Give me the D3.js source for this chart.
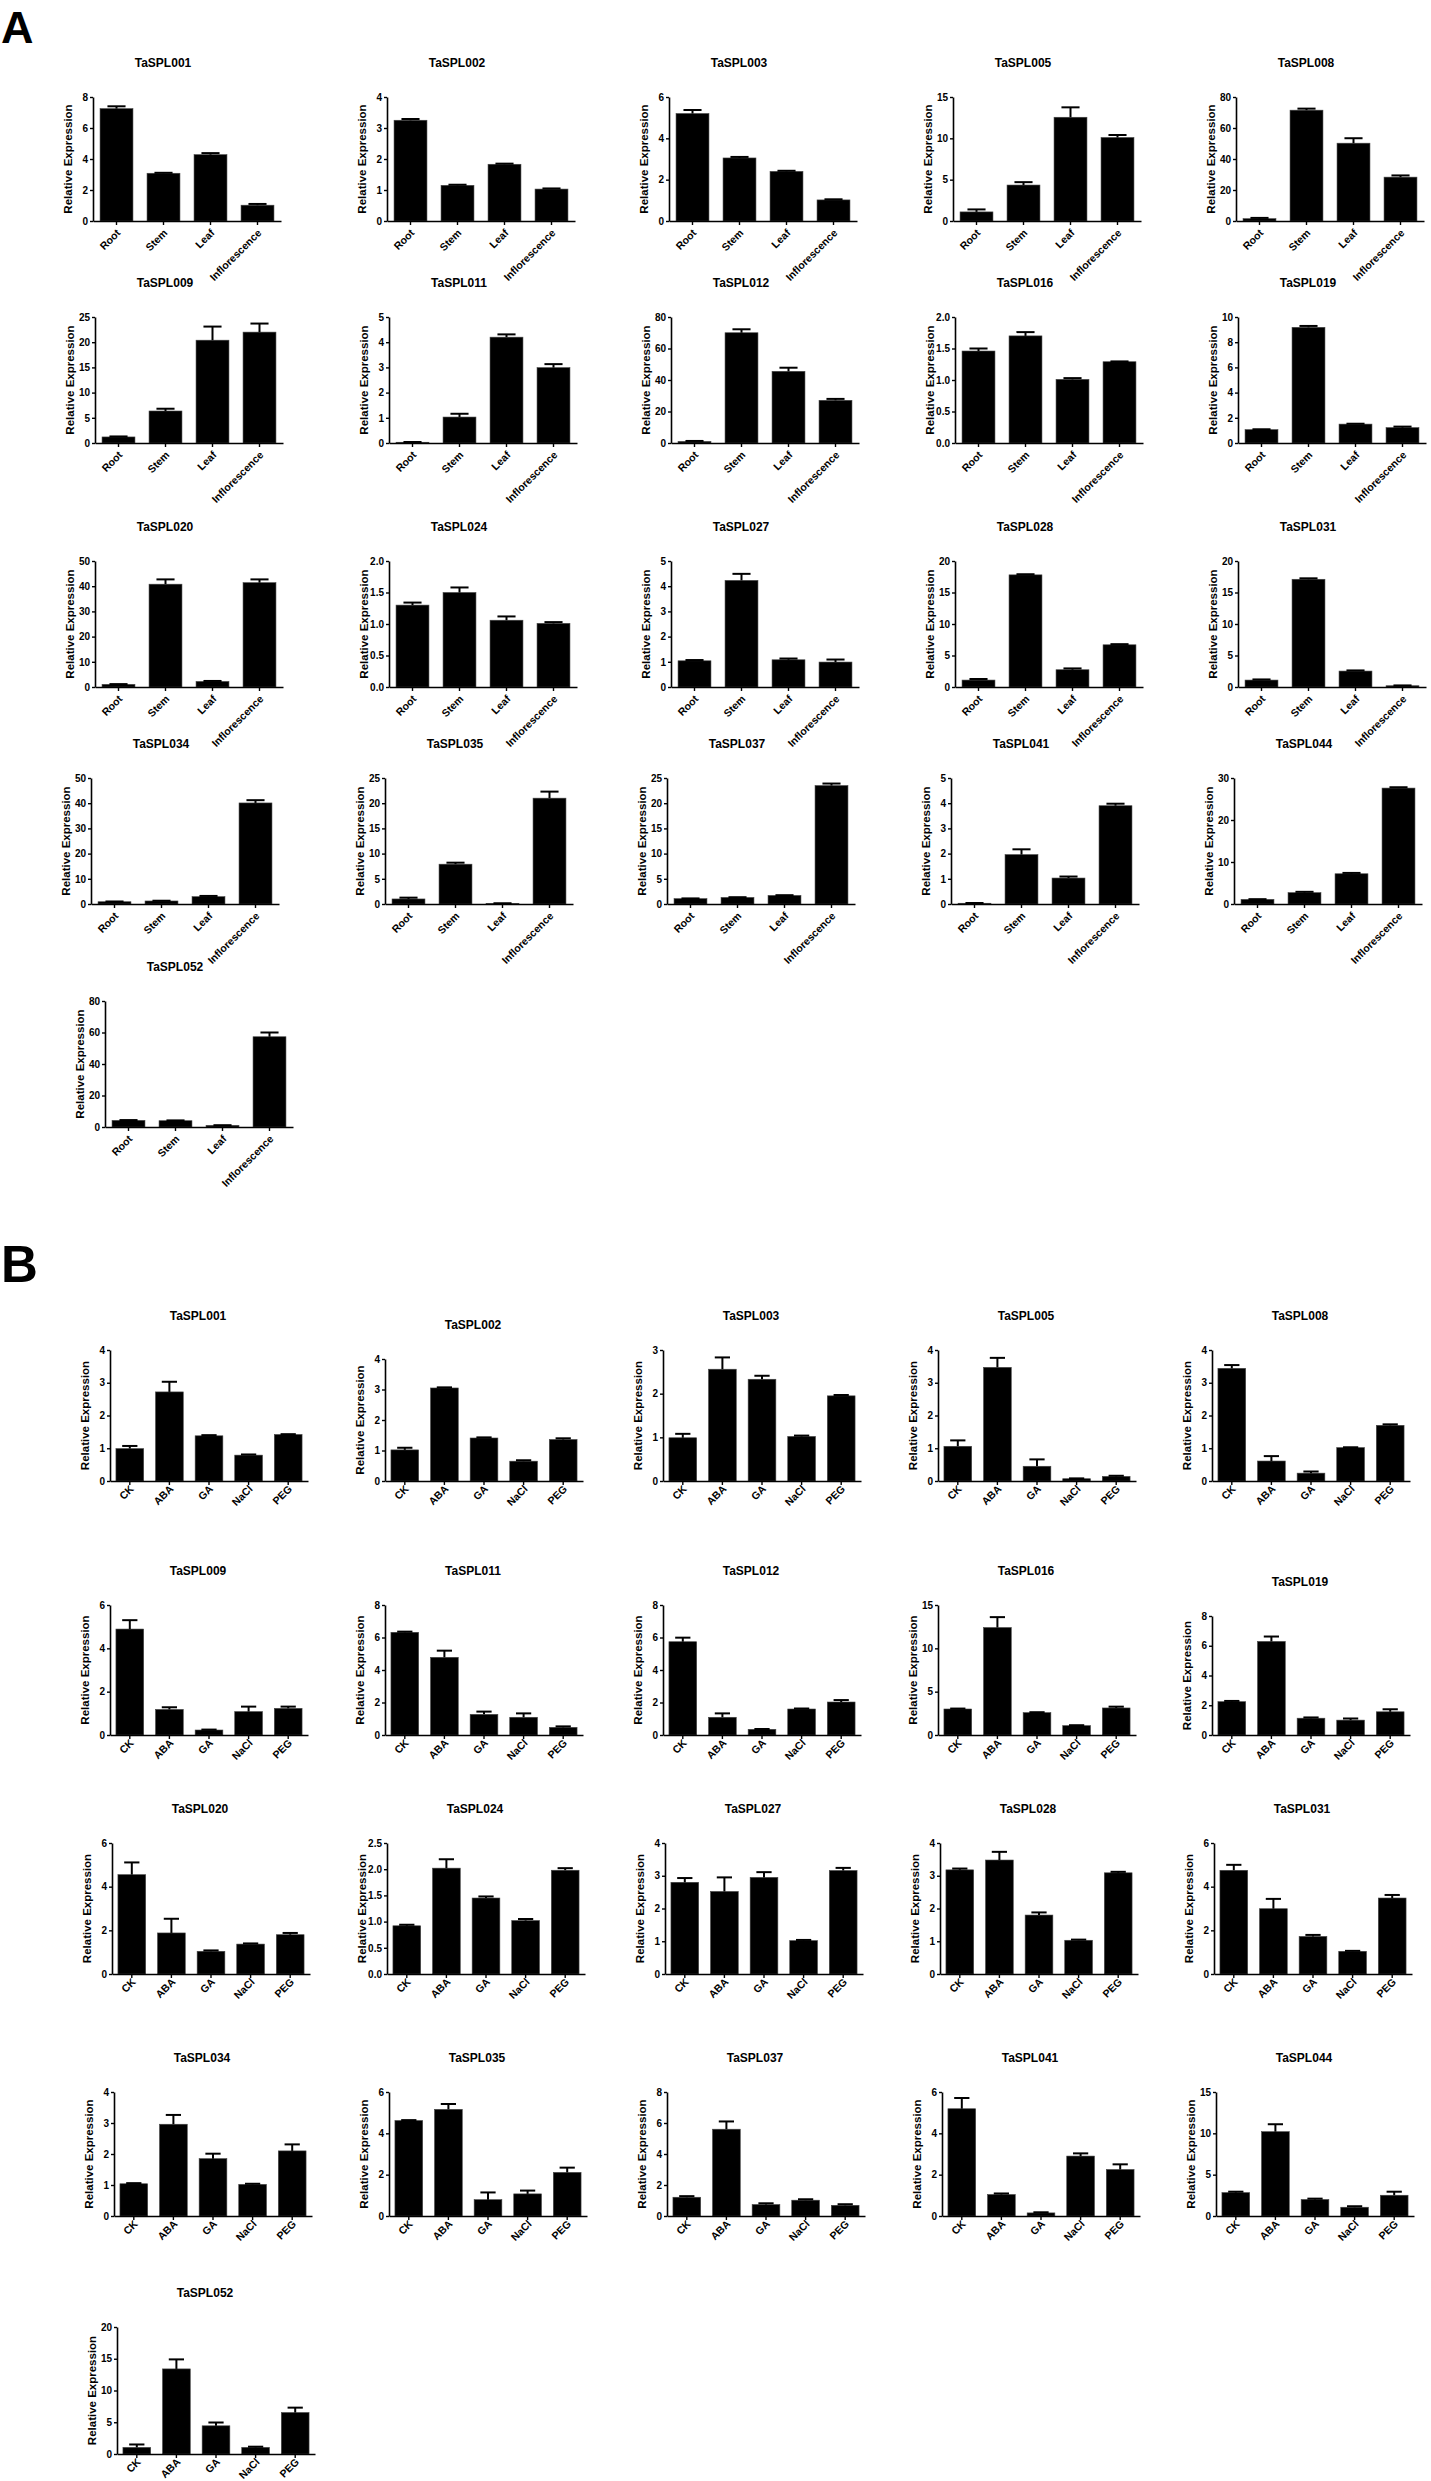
<!DOCTYPE html>
<html>
<head>
<meta charset="utf-8">
<script src="https://cdn.jsdelivr.net/npm/d3@7"></script>
<style>
  body { margin: 0; background: #fff; }
  text { font-family: "Liberation Sans", Arial, sans-serif; font-weight: bold; fill: #000; }
</style>
</head>
<body>
<svg id="fig" width="1431" height="2481"></svg>
<script>
// gene names, same order in A and B
const genes = ["TaSPL001", "TaSPL002", "TaSPL003", "TaSPL005", "TaSPL008",
    "TaSPL009", "TaSPL011", "TaSPL012", "TaSPL016", "TaSPL019",
    "TaSPL020", "TaSPL024", "TaSPL027", "TaSPL028", "TaSPL031",
    "TaSPL034", "TaSPL035", "TaSPL037", "TaSPL041", "TaSPL044",
    "TaSPL052"];

// A: tissues
const tissues = ["Root", "Stem", "Leaf", "Inflorescence"];
const tissueMax = [8, 4, 6, 15, 80, 25, 5, 80, 2, 10, 50, 2, 5, 20, 20, 50, 25, 25, 5, 30, 80];
const tissueStep = [2, 1, 2, 5, 20, 5, 1, 20, 0.5, 2, 10, 0.5, 1, 5, 5, 10, 5, 5, 1, 10, 20];
const tissueMean = [
    [7.25, 3.08, 4.28, 1.02], [3.25, 1.15, 1.83, 1.03], [5.2, 3.05, 2.4, 1.02],
    [1.1, 4.35, 12.55, 10.1], [1.5, 71.5, 50.2, 28.3],
    [1.2, 6.35, 20.4, 22.0], [0.03, 1.03, 4.2, 2.99], [1.0, 70, 45.5, 27.1],
    [1.46, 1.7, 1.01, 1.29], [1.06, 9.18, 1.5, 1.22],
    [1.05, 40.8, 2.2, 41.4], [1.3, 1.5, 1.06, 1.01], [1.04, 4.23, 1.08, 0.99],
    [1.1, 17.8, 2.74, 6.7], [1.1, 17.1, 2.53, 0.2],
    [0.9, 1.2, 2.9, 40.1], [1.0, 7.9, 0.1, 21.0], [1.06, 1.3, 1.7, 23.5],
    [0.03, 1.96, 1.03, 3.9], [1.1, 2.7, 7.2, 27.6],
    [4.2, 4.0, 1.05, 57.3]
];
const tissueErr = [
    [0.15, 0.03, 0.1, 0.08], [0.04, 0.02, 0.02, 0.02], [0.17, 0.05, 0.03, 0.03],
    [0.3, 0.35, 1.2, 0.3], [0.5, 1.0, 3.2, 1.1],
    [0.1, 0.45, 2.7, 1.7], [0.01, 0.13, 0.11, 0.14], [0.3, 2.2, 2.3, 0.9],
    [0.04, 0.06, 0.02, 0.005], [0.03, 0.11, 0.03, 0.08],
    [0.1, 1.9, 0.2, 1.3], [0.04, 0.08, 0.06, 0.02], [0.03, 0.26, 0.05, 0.1],
    [0.17, 0.1, 0.21, 0.1], [0.1, 0.15, 0.1, 0.05],
    [0.1, 0.1, 0.3, 1.1], [0.26, 0.3, 0.05, 1.3], [0.05, 0.05, 0.05, 0.4],
    [0.01, 0.21, 0.06, 0.08], [0.05, 0.2, 0.2, 0.2],
    [0.2, 0.2, 0.1, 2.7]
];

// B: treatments
const treatments = ["CK", "ABA", "GA", "NaCl", "PEG"];
const stressMax = [4, 4, 3, 4, 4, 6, 8, 8, 15, 8, 6, 2.5, 4, 4, 6, 4, 6, 8, 6, 15, 20];
const stressStep = [1, 1, 1, 1, 1, 2, 2, 2, 5, 2, 2, 0.5, 1, 1, 2, 1, 2, 2, 2, 5, 5];
const stressMean = [
    [0.99, 2.72, 1.38, 0.79, 1.42], [1.02, 3.05, 1.41, 0.65, 1.36], [0.99, 2.56, 2.33, 1.02, 1.95],
    [1.06, 3.47, 0.45, 0.07, 0.14], [3.44, 0.61, 0.24, 1.02, 1.7],
    [4.89, 1.18, 0.23, 1.08, 1.23], [6.32, 4.78, 1.27, 1.09, 0.47], [5.74, 1.09, 0.35, 1.6, 2.03],
    [3.0, 12.4, 2.58, 1.08, 3.12], [2.24, 6.29, 1.13, 1.0, 1.56],
    [4.55, 1.88, 1.04, 1.37, 1.8], [0.92, 2.02, 1.45, 1.02, 1.98], [2.8, 2.52, 2.95, 1.02, 3.16],
    [3.18, 3.48, 1.8, 1.03, 3.09], [4.75, 2.99, 1.72, 1.04, 3.48],
    [1.04, 2.96, 1.85, 1.02, 2.1], [4.62, 5.16, 0.79, 1.07, 2.11], [1.21, 5.6, 0.74, 1.02, 0.69],
    [5.19, 1.04, 0.15, 2.9, 2.25], [2.83, 10.2, 2.0, 1.06, 2.51],
    [1.04, 13.4, 4.44, 1.04, 6.53]
];
const stressErr = [
    [0.08, 0.31, 0.02, 0.02, 0.01], [0.07, 0.02, 0.02, 0.03, 0.04], [0.09, 0.27, 0.08, 0.02, 0.02],
    [0.18, 0.29, 0.21, 0.01, 0.02], [0.1, 0.15, 0.05, 0.01, 0.03],
    [0.41, 0.1, 0.02, 0.23, 0.08], [0.04, 0.41, 0.17, 0.24, 0.06], [0.25, 0.24, 0.02, 0.03, 0.12],
    [0.05, 1.2, 0.05, 0.05, 0.15], [0.05, 0.33, 0.05, 0.11, 0.17],
    [0.56, 0.65, 0.04, 0.03, 0.08], [0.02, 0.17, 0.03, 0.03, 0.04], [0.13, 0.43, 0.16, 0.02, 0.08],
    [0.04, 0.25, 0.08, 0.02, 0.03], [0.25, 0.45, 0.07, 0.02, 0.14],
    [0.02, 0.3, 0.16, 0.02, 0.21], [0.02, 0.26, 0.35, 0.16, 0.23], [0.07, 0.5, 0.08, 0.06, 0.07],
    [0.52, 0.05, 0.03, 0.13, 0.25], [0.11, 0.9, 0.1, 0.12, 0.43],
    [0.46, 1.5, 0.52, 0.11, 0.77]
];

const svg = d3.select("#fig");

// grid of the two blocks (y axis position, plot top, plot bottom)
const layoutA = {
    colX: [93, 387, 669, 953, 1236], rowDx: [0, 2, 2, -2, 12],
    top: [97, 317, 561, 778, 1001], bottom: [221, 443, 687, 904, 1127],
    w: 188, titleDx: 70, labelDy: 10
};
const layoutB = {
    colX: [110, 385, 663, 938, 1212], rowDx: [0, 0, 2, 4, 7],
    top: [1350, 1605, 1843, 2092, 2327], bottom: [1481, 1735, 1974, 2216, 2454],
    w: 198, titleDx: 88, labelDy: 6
};
// a few B graphs sit lower in the figure
const shiftB = { 1: 9, 9: 11 };

function drawPanel(x0, top, bottom, L, title, cats, mean, err, max, step) {
    const h = bottom - top;
    const w = L.w;
    const g = svg.append("g").attr("transform", `translate(${x0},${top})`);

    const x = d3.scaleBand()
        .domain(cats)
        .range([0, w])
        .paddingInner(0.3)
        .paddingOuter(0.15);

    const y = d3.scaleLinear()
        .domain([0, max])
        .range([h, 0]);

    const fmt = step < 1 ? d3.format(".1f") : d3.format("d");

    // bars
    g.selectAll(".bar")
        .data(cats)
        .enter()
        .append("rect")
        .attr("x", d => x(d))
        .attr("y", (d, i) => y(mean[i]))
        .attr("width", x.bandwidth())
        .attr("height", (d, i) => h - y(mean[i]))
        .attr("fill", "#000")
        .attr("stroke", "#444")
        .attr("stroke-width", 0.6);

    // error bars (upper only)
    const cap = x.bandwidth() * 0.55;
    const eb = g.selectAll(".err")
        .data(cats)
        .enter()
        .append("g")
        .attr("transform", d => `translate(${x(d) + x.bandwidth() / 2},0)`);
    eb.append("line")
        .attr("y1", (d, i) => y(mean[i]))
        .attr("y2", (d, i) => y(mean[i] + err[i]))
        .attr("stroke", "#000")
        .attr("stroke-width", 2);
    eb.append("line")
        .attr("x1", -cap / 2)
        .attr("x2", cap / 2)
        .attr("y1", (d, i) => y(mean[i] + err[i]))
        .attr("y2", (d, i) => y(mean[i] + err[i]))
        .attr("stroke", "#000")
        .attr("stroke-width", 2);

    // axes
    const yAxis = g.append("g")
        .call(d3.axisLeft(y)
            .tickValues(d3.range(0, max + step / 2, step))
            .tickFormat(fmt)
            .tickSize(3)
            .tickPadding(2)
            .tickSizeOuter(0));
    yAxis.selectAll("text").style("font-size", "10px");

    const xAxis = g.append("g")
        .attr("transform", `translate(0,${h})`)
        .call(d3.axisBottom(x).tickSize(4).tickSizeOuter(0));
    xAxis.selectAll("text")
        .attr("x", 0)
        .attr("y", 0)
        .attr("dy", "0.35em")
        .attr("transform", `translate(2,${L.labelDy}) rotate(-45)`)
        .style("text-anchor", "end")
        .style("font-size", "10.5px");

    svg.selectAll(".domain").attr("stroke-width", 1.6);
    svg.selectAll(".tick line").attr("stroke-width", 1.4);

    // y label
    g.append("text")
        .attr("transform", `translate(-21,${h / 2}) rotate(-90)`)
        .attr("text-anchor", "middle")
        .style("font-size", "11.5px")
        .text("Relative Expression");

    // title
    g.append("text")
        .attr("x", L.titleDx)
        .attr("y", -30)
        .attr("text-anchor", "middle")
        .style("font-size", "12px")
        .text(title);
}

genes.forEach((name, i) => {
    const r = Math.floor(i / 5), c = i % 5;
    const L = layoutA;
    drawPanel(L.colX[c] + L.rowDx[r], L.top[r], L.bottom[r], L,
        name, tissues, tissueMean[i], tissueErr[i], tissueMax[i], tissueStep[i]);
});

genes.forEach((name, i) => {
    const r = Math.floor(i / 5), c = i % 5;
    const L = layoutB;
    const s = shiftB[i] || 0;
    drawPanel(L.colX[c] + L.rowDx[r], L.top[r] + s, L.bottom[r], L,
        name, treatments, stressMean[i], stressErr[i], stressMax[i], stressStep[i]);
});

// block letters
svg.append("text").attr("x", 1).attr("y", 43).style("font-size", "45px").text("A");
svg.append("text").attr("x", 1).attr("y", 1282).style("font-size", "51px").text("B");
</script>
</body>
</html>
